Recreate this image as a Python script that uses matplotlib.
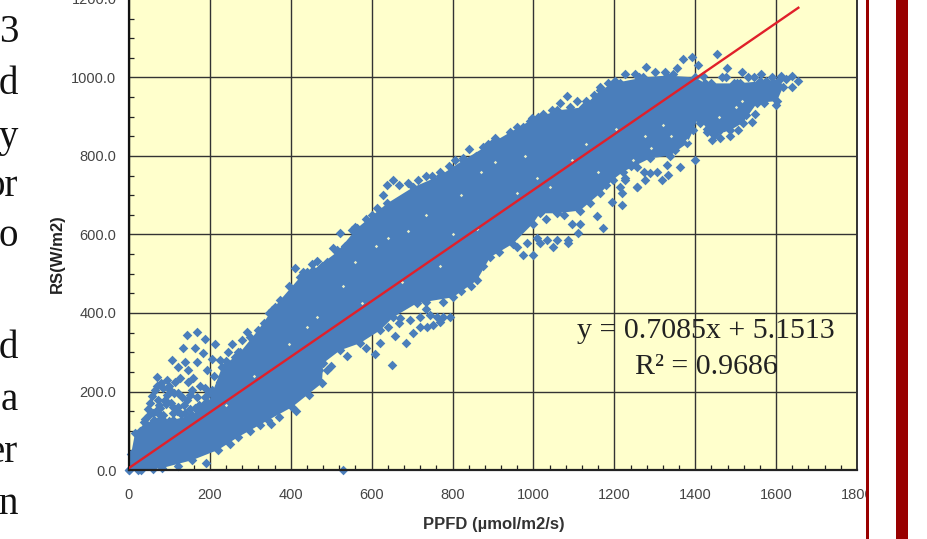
import matplotlib
matplotlib.use("Agg")
import matplotlib.pyplot as plt
from matplotlib.patches import Rectangle
from matplotlib.ticker import MultipleLocator

# outline of the solid part of the cloud
upper_x = [0, 5, 15, 40, 69, 110, 155, 196, 230, 275, 319, 354, 373, 423, 455, 514, 564, 638, 702, 769, 826, 900, 992, 1058, 1122, 1165, 1197, 1271, 1330, 1400, 1425, 1503, 1560, 1610, 1617]
upper_y = [0, 40, 94, 110, 120, 128, 140, 170, 262, 300, 356, 407, 432, 491, 509, 555, 616, 679, 720, 750, 789, 835, 890, 916, 924, 967, 985, 1000, 1005, 1000, 985, 985, 990, 995, 975]
lower_x = [1602, 1553, 1518, 1486, 1444, 1429, 1407, 1395, 1380, 1338, 1288, 1222, 1197, 1165, 1115, 1058, 1016, 999, 950, 893, 860, 801, 712, 653, 621, 571, 522, 480, 477, 403, 344, 270, 220, 156, 82, 22, 0]
lower_y = [940, 935, 885, 865, 855, 870, 898, 865, 832, 801, 794, 760, 740, 705, 661, 654, 654, 628, 577, 542, 483, 440, 425, 389, 356, 323, 305, 272, 221, 160, 127, 84, 51, 25, 5, 0, 0]

# sparse points around the solid part
cluster_x = [143, 167, 188, 213, 134, 163, 184, 204, 106, 122, 138, 167, 147, 192, 159, 68, 93, 114, 147, 188, 85, 64, 101, 155, 122, 72, 52, 89, 105, 143, 167, 188, 60, 85, 110, 138, 163, 188, 76, 122, 254, 291, 279, 246, 303, 229, 262, 287, 40, 48, 58, 75, 95, 118, 130, 150, 178, 98, 45, 35, 28, 22, 70, 125, 175, 210, 215, 225, 80, 100, 112, 130, 50, 62, 92, 108, 135, 152, 172, 200, 212, 240, 270, 78, 128, 198, 88, 66, 150, 180, 205, 225, 300, 320, 245, 270, 38, 55, 72, 85]
cluster_y = [344, 352, 335, 322, 310, 310, 297, 284, 280, 263, 276, 276, 255, 255, 234, 237, 229, 225, 225, 208, 208, 204, 204, 204, 195, 178, 170, 178, 170, 178, 186, 186, 144, 140, 144, 144, 157, 170, 157, 161, 322, 352, 331, 301, 314, 263, 289, 271, 130, 155, 188, 165, 190, 150, 125, 135, 150, 125, 115, 105, 100, 60, 215, 235, 215, 240, 200, 225, 222, 215, 195, 185, 140, 128, 168, 160, 165, 190, 165, 150, 178, 278, 300, 132, 142, 195, 175, 150, 155, 158, 205, 280, 340, 335, 270, 265, 122, 118, 145, 128]
top_edge_x = [653, 638, 690, 715, 522, 465, 490, 410, 514, 403, 841, 875, 905, 925, 826, 996, 1046, 1024, 1066, 1083, 1108, 1165, 1202, 1227, 1251, 1392, 1370, 1454, 1278, 1355, 1407, 1479, 1325, 1516, 1563, 1612, 1639, 1654, 1639, 1475, 1530, 1590, 1420, 345, 380, 440, 560, 600, 750, 790, 960, 335, 360, 395, 430, 452, 478, 505, 535, 552, 585, 612, 628, 668, 735, 768, 805, 858, 888, 942, 975, 1012, 1090, 1130, 1150, 1185, 1215, 1262, 1300, 1345, 1440, 1465, 1495, 1545, 1575, 1600, 1625, 1440, 1510, 1580]
top_edge_y = [738, 725, 730, 738, 603, 532, 529, 514, 560, 453, 817, 822, 845, 835, 794, 896, 916, 908, 936, 954, 941, 977, 992, 1010, 1008, 1053, 1048, 1061, 1028, 1025, 1031, 1023, 1013, 1013, 1010, 1005, 1005, 990, 977, 1000, 1000, 1000, 1005, 400, 425, 505, 620, 650, 750, 775, 875, 375, 415, 470, 505, 525, 520, 565, 570, 612, 640, 668, 700, 725, 750, 760, 790, 800, 830, 860, 875, 900, 925, 940, 955, 985, 985, 1000, 1015, 1010, 985, 1000, 985, 1000, 990, 985, 995, 975, 985, 985]
low_edge_x = [650, 608, 685, 702, 621, 734, 776, 658, 720, 737, 752, 776, 794, 761, 744, 695, 670, 720, 769, 1219, 1194, 1256, 1227, 1219, 1157, 1172, 1095, 1115, 1110, 1086, 1058, 1033, 1009, 1049, 974, 999, 1086, 1016, 984, 959, 1548, 1540, 1442, 1461, 1461, 1486, 1506, 1400, 1363, 1333, 1330, 1306, 1318, 1276, 1256, 1256, 1288, 1273, 1227, 1214, 529, 500, 470, 430, 385, 325, 300, 250, 190, 120, 60, 30, 10, 350, 372, 412, 445, 490, 540, 585, 640, 668, 735, 820, 845, 875, 915, 935, 1030, 1075, 1140, 1180, 1240, 1350, 1412, 1430, 1475, 1500, 1525, 1570, 1600, 1450, 1530, 1470]
low_edge_y = [267, 295, 323, 349, 323, 427, 427, 341, 389, 364, 369, 389, 389, 389, 394, 382, 387, 364, 377, 674, 682, 720, 738, 705, 646, 616, 628, 628, 603, 585, 585, 585, 590, 567, 547, 547, 578, 578, 578, 567, 906, 886, 840, 845, 865, 852, 865, 791, 771, 751, 776, 758, 738, 738, 720, 771, 756, 760, 743, 720, 0, 265, 255, 210, 175, 115, 100, 65, 18, 10, 2, 0, 28, 118, 135, 150, 190, 255, 290, 310, 365, 375, 410, 455, 470, 520, 555, 590, 640, 650, 680, 725, 775, 815, 885, 860, 880, 890, 905, 935, 930, 855, 925, 875]

# small gaps showing through the solid part
gap_x = [465, 530, 610, 640, 735, 820, 870, 905, 980, 1040, 1130, 1205, 1245, 1275, 1320, 690, 575, 770, 1160, 1095, 960, 860, 1010, 1340, 1460, 1500, 1515, 1380, 1290, 560, 395, 440, 310, 240, 675, 800]
gap_y = [390, 470, 570, 590, 650, 700, 760, 785, 800, 720, 830, 870, 790, 850, 880, 610, 425, 520, 760, 790, 705, 615, 745, 850, 900, 925, 940, 840, 820, 530, 320, 365, 240, 165, 480, 600]

trend_x = [0, 1655]
trend_y = [5.15, 1177.7]

x_ticks = [0, 200, 400, 600, 800, 1000, 1200, 1400, 1600, 1800]
y_ticks = [0, 200, 400, 600, 800, 1000, 1200]

# fragments of the page text on the left of the chart
side_words = ["3", "d", "y", "or", "o", "d", "a", "er", "n"]
side_rows = [32, 85, 137, 186, 237, 349, 401, 453, 504]

W, H = 928, 539
BLUE = "#4a7ebb"
MARK = 24

fig = plt.figure(figsize=(W / 100, H / 100), dpi=100, facecolor="white")
ax = fig.add_axes([129 / W, 1 - 470 / H, 728 / W, 471 / H], facecolor="#ffffcc")
ax.set_xlim(0, 1800)
ax.set_ylim(0, 1200)

ax.grid(True, color="#333333", lw=1.0, zorder=1)
ax.set_axisbelow(True)

ax.fill(upper_x + lower_x, upper_y + lower_y, color=BLUE, lw=0, zorder=2)
ax.scatter(upper_x + lower_x, upper_y + lower_y, marker="D", s=MARK, color=BLUE, lw=0, zorder=2, clip_on=False)
ax.scatter(cluster_x, cluster_y, marker="D", s=MARK, color=BLUE, lw=0, zorder=2, clip_on=False)
ax.scatter(top_edge_x, top_edge_y, marker="D", s=MARK, color=BLUE, lw=0, zorder=2, clip_on=False)
ax.scatter(low_edge_x, low_edge_y, marker="D", s=MARK, color=BLUE, lw=0, zorder=2, clip_on=False)
ax.scatter(gap_x, gap_y, marker="D", s=3, color="#e8eec8", lw=0, zorder=2.5)
ax.plot(trend_x, trend_y, color="#e0202a", lw=1.7, zorder=3)

ax.set_xticks(x_ticks)
ax.set_yticks(y_ticks)
ax.set_yticklabels(["%.1f" % v for v in y_ticks])
ax.xaxis.set_minor_locator(MultipleLocator(40))
ax.yaxis.set_minor_locator(MultipleLocator(50))
ax.tick_params(which="major", direction="in", length=0, labelsize=10.5, labelcolor="#444444", labelfontfamily="Liberation Sans")
ax.tick_params(axis="x", which="major", pad=13)
ax.tick_params(axis="y", which="major", pad=9)
ax.tick_params(which="minor", direction="in", length=3.5, width=0.9, color="#222222")

ax.spines["left"].set(lw=1.6, color="#111111")
ax.spines["bottom"].set(lw=1.6, color="#222222")
ax.spines["right"].set(lw=1.4, color="#333333")
ax.spines["top"].set(lw=1.0, color="#666666")

ax.set_xlabel("PPFD (µmol/m2/s)", family="Liberation Sans", weight="bold", fontsize=12, color="#333333", va="center")
ax.xaxis.set_label_coords(0.501, -0.115)
ax.set_ylabel("RS(W/m2)", family="Liberation Sans", weight="bold", fontsize=12, color="#222222", va="center")
ax.yaxis.set_label_coords(-0.099, 0.459)

ax.text(1427, 354, "y = 0.7085x + 5.1513", family="Liberation Serif", fontsize=21.5, color="#222222", ha="center", va="center", zorder=4)
ax.text(1427, 262, "R² = 0.9686", family="Liberation Serif", fontsize=21.5, color="#222222", ha="center", va="center", zorder=4)

for word, row in zip(side_words, side_rows):
    fig.text(18 / W, 1 - row / H, word, family="Liberation Serif", fontsize=28, color="#111111", ha="right", va="center")

# page frame to the right of the chart covers the end of the last tick label
fig.add_artist(Rectangle((869 / W, 0), 59 / W, 1, transform=fig.transFigure, color="white", lw=0, zorder=5))
fig.add_artist(Rectangle((866 / W, 0), 3 / W, 1, transform=fig.transFigure, color="#990000", lw=0, zorder=6))
fig.add_artist(Rectangle((896 / W, 0), 12 / W, 1, transform=fig.transFigure, color="#990000", lw=0, zorder=6))

fig.savefig("out.png", dpi=100)
